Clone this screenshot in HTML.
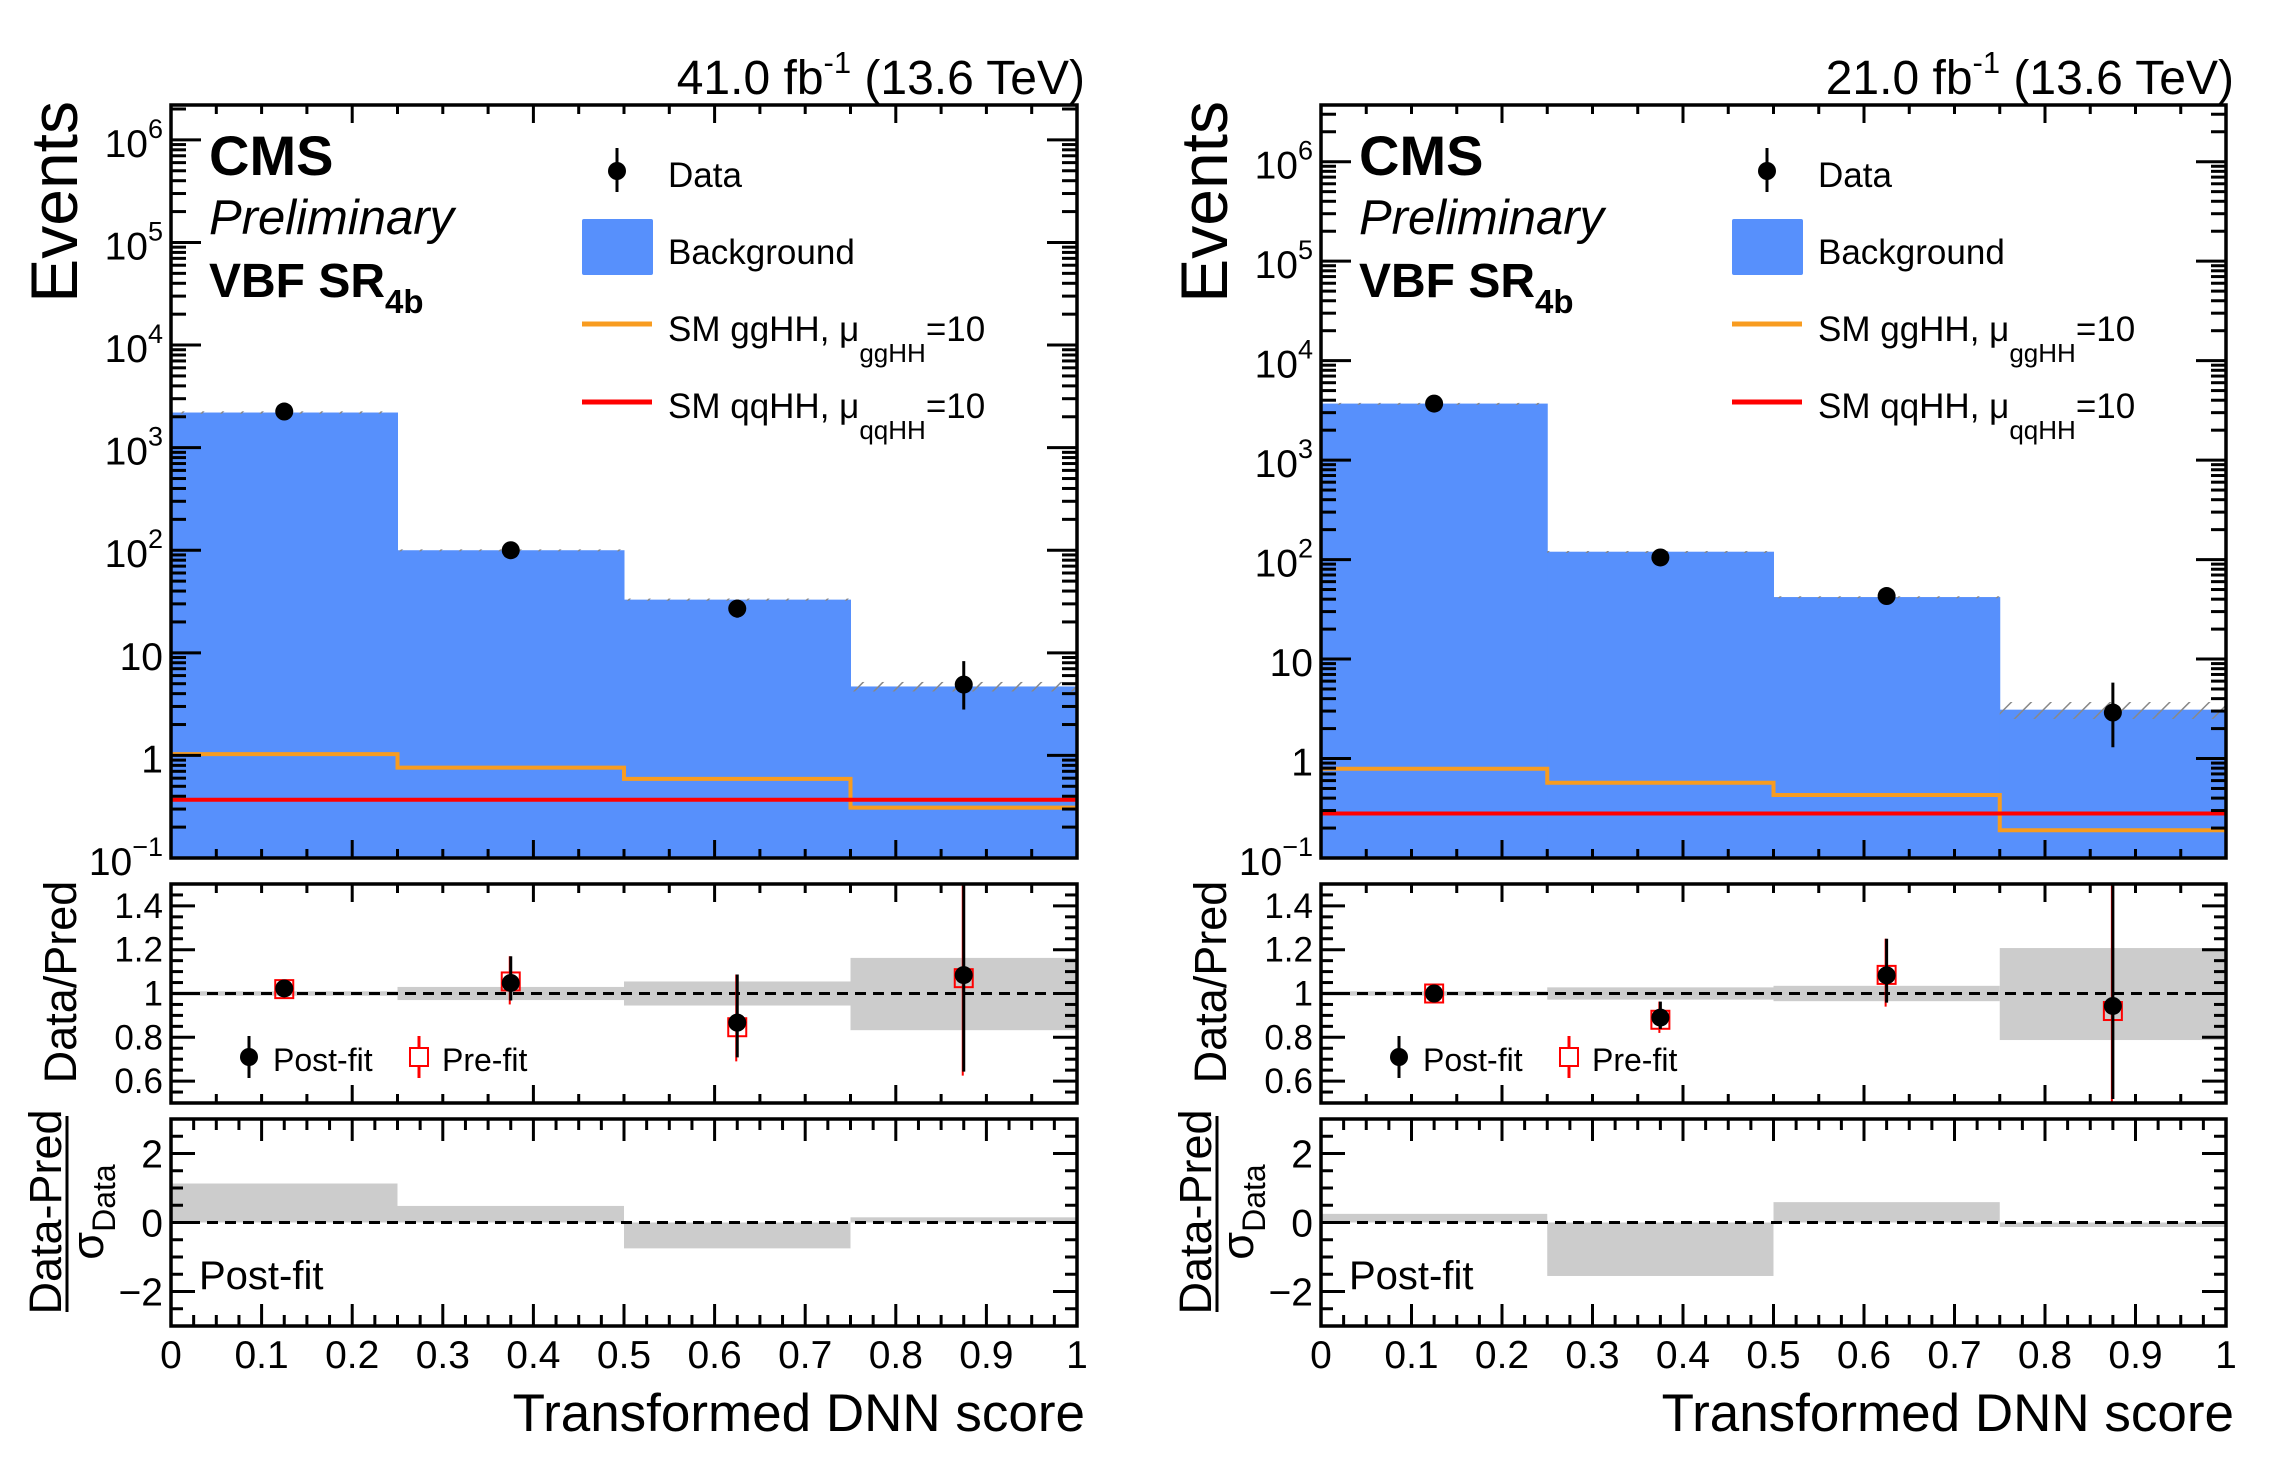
<!DOCTYPE html>
<html><head><meta charset="utf-8">
<style>
html,body{margin:0;padding:0;background:#fff;}
svg{display:block;font-family:"Liberation Sans",Arial,sans-serif;}
</style></head>
<body>
<svg id="chart" width="2284" height="1468" viewBox="0 0 2284 1468" xmlns="http://www.w3.org/2000/svg"></svg>
<script>
// ---------- data ----------
const binEdges = [0, 0.25, 0.5, 0.75, 1.0];
const lumiLabels = ["41.0", "21.0"];
// left panel (41.0 fb-1)
const bkgL = [2200, 100, 33, 4.7];
const bkgUncL = [60, 2, 0.8, 0.5];
const dataL = [2250, 100, 27, 4.9];
const dataLoL = [2200, 90, 22, 2.8];
const dataHiL = [2300, 110, 33, 8.3];
const ggL = [1.03, 0.76, 0.59, 0.31];
const qqL = [0.37, 0.37, 0.37, 0.37];
const ratioL = [1.023, 1.048, 0.867, 1.084];
const ratioLoL = [1.0, 0.95, 0.69, 0.625];
const ratioHiL = [1.045, 1.17, 1.087, 1.6];
const preL = [1.02, 1.055, 0.846, 1.07];
const bandCL = [1.0, 1.0, 1.0, 0.9975];
const bandHL = [0.01, 0.03, 0.055, 0.165];
const pullL = [1.13, 0.48, -0.75, 0.15];
// right panel (21.0 fb-1)
const bkgR = [3700, 120, 42, 3.1];
const bkgUncR = [60, 2, 0.8, 0.6];
const dataR = [3700, 105, 43, 2.9];
const dataLoR = [3640, 95, 37, 1.3];
const dataHiR = [3760, 115, 50, 5.8];
const ggR = [0.79, 0.57, 0.43, 0.19];
const qqR = [0.28, 0.28, 0.28, 0.28];
const ratioR = [1.0, 0.89, 1.083, 0.943];
const ratioLoR = [0.98, 0.82, 0.94, 0.45];
const ratioHiR = [1.02, 0.963, 1.25, 1.6];
const preR = [1.0, 0.88, 1.085, 0.92];
const bandCR = [1.0, 1.0, 1.0, 0.9975];
const bandHR = [0.01, 0.028, 0.035, 0.21];
const pullR = [0.25, -1.55, 0.59, -0.13];
// axis ticks
const xTickLabels = ["0","0.1","0.2","0.3","0.4","0.5","0.6","0.7","0.8","0.9","1"];
const ratioTickLabels = ["1.4","1.2","1","0.8","0.6"];
const pullTickLabels = ["2","0","\u22122"];

// ---------- helpers ----------
const NS = "http://www.w3.org/2000/svg";
const svg = document.getElementById("chart");
function el(tag, attrs, parent) {
  const e = document.createElementNS(NS, tag);
  for (const k in attrs) e.setAttribute(k, attrs[k]);
  (parent || svg).appendChild(e);
  return e;
}
const BLUE = "#5790fc", ORANGE = "#f89c20", RED = "#ff0000", GREY = "#cccccc";
const MAIN = {t:105, b:858}, RAT = {t:884, b:1103}, PULL = {t:1119, b:1326};

function drawPanel(idx, x0, x1, logMax, D) {
  const g = el("g", {});
  
  
  const sx = v => x0 + v * (x1 - x0);
  const sy = v => MAIN.b - (Math.log10(v) + 1) / (logMax + 1) * (MAIN.b - MAIN.t);
  const ry = v => RAT.b - (v - 0.5) * (RAT.b - RAT.t);
  const py = v => PULL.b - (v + 3) / 6 * (PULL.b - PULL.t);
  const cy = v => Math.max(MAIN.t, Math.min(MAIN.b, sy(v)));

  const defs = el("defs", {}, g);
  const pat = el("pattern", {id:"hatch"+idx, width:14, height:14, patternUnits:"userSpaceOnUse", patternTransform:"rotate(45)"}, defs);
  el("line", {x1:0, y1:0, x2:0, y2:14, stroke:"#888", "stroke-width":3}, pat);

  for (let i = 0; i < 4; i++) {
    const r = el("rect", {x:sx(binEdges[i]), y:sy(D.bkg[i]), width:sx(binEdges[i+1]) - sx(binEdges[i]) + 0.5, height:MAIN.b - sy(D.bkg[i]), fill:BLUE}, g);
    
    
    const yt = sy(D.bkg[i] + D.unc[i]), yb = sy(D.bkg[i] - D.unc[i]);
    const h = el("rect", {x:sx(binEdges[i]), y:yt, width:sx(binEdges[i+1]) - sx(binEdges[i]), height:Math.max(2, yb - yt), fill:"url(#hatch"+idx+")"}, g);
    
    
  }
  function step(vals, color, name) {
    let d = "";
    for (let i = 0; i < 4; i++) {
      d += (i === 0 ? "M" : "L") + sx(binEdges[i]) + "," + cy(vals[i]) + " L" + sx(binEdges[i+1]) + "," + cy(vals[i]);
    }
    const p = el("path", {d:d, fill:"none", stroke:color, "stroke-width":4}, g);
    
    
  }
  step(D.gg, ORANGE, 'gghh-signal-line');
  step(D.qq, RED, 'qqhh-signal-line');
  for (let i = 0; i < 4; i++) {
    const xc = sx((binEdges[i] + binEdges[i+1]) / 2);
    const l = el("line", {x1:xc, x2:xc, y1:cy(D.hi[i]), y2:cy(D.lo[i]), stroke:"#000", "stroke-width":3}, g);
    
    
    const c = el("circle", {cx:xc, cy:sy(D.data[i]), r:9, fill:"#000"}, g);
    
    
  }

  for (let i = 0; i < 4; i++) {
    const b = el("rect", {x:sx(binEdges[i]), y:ry(D.bandC[i] + D.bandH[i]), width:sx(binEdges[i+1]) - sx(binEdges[i]), height:ry(D.bandC[i] - D.bandH[i]) - ry(D.bandC[i] + D.bandH[i]), fill:GREY}, g);
    
    
  }
  el("line", {x1:x0, x2:x1, y1:ry(1), y2:ry(1), stroke:"#000", "stroke-width":3, "stroke-dasharray":"11,7"}, g);
  const ryc = v => Math.max(RAT.t, Math.min(RAT.b, ry(v)));
  for (let i = 0; i < 4; i++) {
    const xc = sx((binEdges[i] + binEdges[i+1]) / 2);
    el("line", {x1:xc-1, x2:xc-1, y1:ryc(D.rHi[i]), y2:ryc(D.rLo[i]) , stroke:RED, "stroke-width":2}, g);
    const s = el("rect", {x:xc-9, y:ry(D.pre[i])-9, width:18, height:18, fill:"none", stroke:RED, "stroke-width":2}, g);
    
    
    el("line", {x1:xc, x2:xc, y1:ryc(D.rHi[i]), y2:ryc(D.rLo[i]) - 4, stroke:"#000", "stroke-width":3}, g);
    const c = el("circle", {cx:xc, cy:ry(D.ratio[i]), r:9, fill:"#000"}, g);
    
    
  }
  for (let i = 0; i < 4; i++) {
    const y0 = py(0), yv = py(D.pull[i]);
    const r = el("rect", {x:sx(binEdges[i]), y:Math.min(y0, yv), width:sx(binEdges[i+1]) - sx(binEdges[i]), height:Math.abs(yv - y0), fill:GREY}, g);
    
    
  }
  el("line", {x1:x0, x2:x1, y1:py(0), y2:py(0), stroke:"#000", "stroke-width":3, "stroke-dasharray":"11,7"}, g);

  const frames = [[MAIN,'main-frame'],[RAT,'ratio-frame'],[PULL,'pull-frame']];
  frames.forEach(([f, n]) => {
    const r = el("rect", {x:x0, y:f.t, width:x1-x0, height:f.b-f.t, fill:"none", stroke:"#000", "stroke-width":3.5}, g);
    
    
  });
  function xticks(f, minorStep, majorEvery, majL, minL) {
    const n = Math.round(1 / minorStep);
    for (let k = 1; k < n; k++) {
      const major = k % majorEvery === 0;
      const L = major ? majL : minL, x = sx(k * minorStep);
      el("line", {x1:x, x2:x, y1:f.t, y2:f.t + L, stroke:"#000", "stroke-width":3}, g);
      el("line", {x1:x, x2:x, y1:f.b, y2:f.b - L, stroke:"#000", "stroke-width":3}, g);
    }
  }
  xticks(MAIN, 0.05, 4, 18, 9);
  xticks(RAT, 0.05, 4, 18, 9);
  xticks(PULL, 0.025, 4, 22, 11);
  function yticks(vals, map, L) {
    vals.forEach(v => {
      const y = map(v);
      el("line", {x1:x0, x2:x0 + L, y1:y, y2:y, stroke:"#000", "stroke-width":3}, g);
      el("line", {x1:x1, x2:x1 - L, y1:y, y2:y, stroke:"#000", "stroke-width":3}, g);
    });
  }
  const maj = [], mnr = [];
  for (let e = -1; e <= 6; e++) {
    if (Math.pow(10, e) <= Math.pow(10, logMax)) maj.push(Math.pow(10, e));
    for (let m = 2; m <= 9; m++) if (Math.log10(m * Math.pow(10, e)) < logMax) mnr.push(m * Math.pow(10, e));
  }
  yticks(maj, sy, 30); yticks(mnr, sy, 15);
  const rmaj = [], rmin = [];
  for (let k = 0; k <= 20; k++) { const v = 0.5 + k * 0.05; if (k % 4 === 2) rmaj.push(v); else if (k > 0 && k < 20) rmin.push(v); }
  yticks(rmaj, ry, 24); yticks(rmin, ry, 12);
  const pmaj = [-2, 0, 2], pmin = [-2.5, -1.5, -1, -0.5, 0.5, 1, 1.5, 2.5];
  yticks(pmaj, py, 24); yticks(pmin, py, 12);

  xTickLabels.forEach((t, k) => {
    const tx = el("text", {x:sx(k / 10), y:1368, "font-size":39, "text-anchor":"middle"}, g);
    tx.textContent = t;
    
    
  });
  maj.forEach(v => {
    const e = Math.round(Math.log10(v));
    const tx = el("text", {x:x0 - 8, y:sy(v) + 17, "font-size":39, "text-anchor":"end"}, g);
    
    
    if (e === 0) tx.textContent = "1";
    else if (e === 1) tx.textContent = "10";
    else {
      const a = el("tspan", {}, tx); a.textContent = "10";
      const b = el("tspan", {dy:-19, "font-size":27}, tx); b.textContent = e === -1 ? "\u22121" : String(e);
    }
  });
  ratioTickLabels.forEach((t) => {
    const tx = el("text", {x:x0 - 8, y:ry(parseFloat(t)) + 12, "font-size":35, "text-anchor":"end"}, g);
    tx.textContent = t;
    
    
  });
  pullTickLabels.forEach((t) => {
    const tx = el("text", {x:x0 - 8, y:py(parseFloat(t.replace("\u2212", "-"))) + 14, "font-size":39, "text-anchor":"end"}, g);
    tx.textContent = t;
    
    
  });

  function txt(x, y, s, attrs, name) {
    const t = el("text", Object.assign({x:x, y:y}, attrs), g);
    t.textContent = s;
    
    
    return t;
  }
  const lumi = el("text", {x:x1 + 8, y:94, "font-size":48, "text-anchor":"end"}, g);
  
  
  const l1 = el("tspan", {}, lumi); l1.textContent = lumiLabels[idx] + " fb";
  const l2 = el("tspan", {dy:-21, "font-size":31}, lumi); l2.textContent = "-1";
  const l3 = el("tspan", {dy:21}, lumi); l3.textContent = " (13.6 TeV)";
  txt(0, 0, "Events", {"font-size":66, "text-anchor":"end", transform:"translate(" + (x0 - 94) + ",101) rotate(-90)"}, 'y-axis-title');
  txt(0, 0, "Data/Pred", {"font-size":45, "text-anchor":"middle", transform:"translate(" + (x0 - 95) + ",982) rotate(-90)"}, 'ratio-axis-title');
  txt(0, 0, "Data-Pred", {"font-size":45, "text-anchor":"middle", transform:"translate(" + (x0 - 110) + ",1212) rotate(-90)"}, 'pull-axis-title-numerator');
  el("line", {x1:x0 - 104, x2:x0 - 104, y1:1116, y2:1312, stroke:"#000", "stroke-width":3}, g);
  const sig = el("text", {"font-size":45, "text-anchor":"middle", transform:"translate(" + (x0 - 68) + ",1212) rotate(-90)"}, g);
  
  
  const s1 = el("tspan", {}, sig); s1.textContent = "\u03c3";
  const s2 = el("tspan", {dy:12, "font-size":32}, sig); s2.textContent = "Data";
  txt(x1 + 8, 1431, "Transformed DNN score", {"font-size":53, "text-anchor":"end"}, 'x-axis-title');
  txt(x0 + 38, 175, "CMS", {"font-size":56, "font-weight":"bold"}, 'cms-label');
  txt(x0 + 38, 234, "Preliminary", {"font-size":49, "font-style":"italic"}, 'preliminary-label');
  const vbf = el("text", {x:x0 + 38, y:297, "font-size":48, "font-weight":"bold"}, g);
  
  
  const v1 = el("tspan", {}, vbf); v1.textContent = "VBF SR";
  const v2 = el("tspan", {dy:16, "font-size":33}, vbf); v2.textContent = "4b";

  const lg = el("g", {}, g);
  
  
  el("line", {x1:x0 + 446, x2:x0 + 446, y1:148, y2:192, stroke:"#000", "stroke-width":3}, lg);
  el("circle", {cx:x0 + 446, cy:171, r:9, fill:"#000"}, lg);
  const t1 = el("text", {x:x0 + 497, y:187, "font-size":35}, lg); t1.textContent = "Data";
  el("rect", {x:x0 + 411, y:219, width:71, height:56, rx:2, fill:BLUE}, lg);
  const t2 = el("text", {x:x0 + 497, y:264, "font-size":35}, lg); t2.textContent = "Background";
  [["gg", ORANGE, 324, 341], ["qq", RED, 402, 418]].forEach(([p, col, ly, by]) => {
    el("line", {x1:x0 + 411, x2:x0 + 481, y1:ly, y2:ly, stroke:col, "stroke-width":5}, lg);
    const t = el("text", {x:x0 + 497, y:by, "font-size":35}, lg);
    const a = el("tspan", {}, t); a.textContent = "SM " + p + "HH, \u03bc";
    const b = el("tspan", {dy:21, "font-size":26}, t); b.textContent = p + "HH";
    const c = el("tspan", {dy:-21}, t); c.textContent = "=10";
  });
  const rl = el("g", {}, g);
  
  
  el("line", {x1:x0 + 78, x2:x0 + 78, y1:1036, y2:1078, stroke:"#000", "stroke-width":3}, rl);
  el("circle", {cx:x0 + 78, cy:1057, r:9, fill:"#000"}, rl);
  const r1 = el("text", {x:x0 + 102, y:1071, "font-size":32}, rl); r1.textContent = "Post-fit";
  el("line", {x1:x0 + 248, x2:x0 + 248, y1:1036, y2:1078, stroke:RED, "stroke-width":3}, rl);
  el("rect", {x:x0 + 239, y:1048, width:18, height:18, fill:"#fff", stroke:RED, "stroke-width":2}, rl);
  const r2 = el("text", {x:x0 + 271, y:1071, "font-size":32}, rl); r2.textContent = "Pre-fit";
  txt(x0 + 28, 1289, "Post-fit", {"font-size":40}, 'pull-postfit-label');
}

drawPanel(0, 171, 1077, 6.34, {bkg:bkgL, unc:bkgUncL, data:dataL, lo:dataLoL, hi:dataHiL, gg:ggL, qq:qqL,
  ratio:ratioL, rLo:ratioLoL, rHi:ratioHiL, pre:preL, bandC:bandCL, bandH:bandHL, pull:pullL});
drawPanel(1, 1321, 2226, 6.57, {bkg:bkgR, unc:bkgUncR, data:dataR, lo:dataLoR, hi:dataHiR, gg:ggR, qq:qqR,
  ratio:ratioR, rLo:ratioLoR, rHi:ratioHiR, pre:preR, bandC:bandCR, bandH:bandHR, pull:pullR});
</script>
</body></html>
